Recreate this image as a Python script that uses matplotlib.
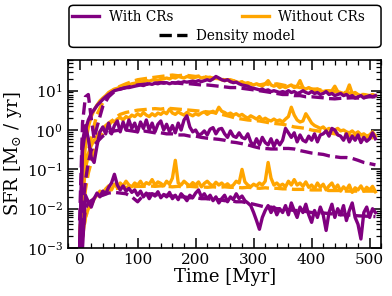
import numpy as np
import matplotlib
matplotlib.use("Agg")
import matplotlib.pyplot as plt
from matplotlib.lines import Line2D
from matplotlib.patches import FancyBboxPatch
from matplotlib.ticker import MultipleLocator, LogLocator, NullFormatter

plt.rcParams['font.family'] = 'serif'
plt.rcParams['font.serif'] = ['DejaVu Serif']
plt.rcParams['mathtext.fontset'] = 'dejavuserif'

# time grids (Myr)
t_sim = np.arange(0, 515, 5)
t_mod = np.concatenate([[0, 5, 10, 15, 20, 25, 30], np.arange(40, 520, 10)])

# --- simulations: high mass ---
sfr_hi_cr = [0.001, 0.3, 1.0, 1.8, 2.6, 3.3, 4.2, 5, 6, 7,
             8, 9, 10, 10.5, 11, 11.5, 12, 12, 12.5, 13,
             13.5, 14, 13.5, 14.5, 15, 14.5, 15.5, 15, 16, 15.5,
             16, 15, 16, 15.5, 16.5, 16, 17, 16.5, 17, 17.5,
             17, 18, 17, 18, 19, 18, 20, 23, 21, 19,
             18, 19, 17, 16, 16.5, 15, 14, 13.5, 13, 12,
             11.5, 11, 10.5, 11, 10, 10.5, 9.5, 10, 9.5, 9,
             9.5, 9, 10, 9, 9.5, 8.5, 9, 10, 9, 8.5,
             9.5, 8.5, 9, 8, 8.5, 9.5, 8, 8.5, 7.5, 8,
             8.5, 7.5, 8, 7, 7.5, 6.5, 7, 7.5, 6.5, 7,
             7.5, 7, 7.5]
sfr_hi_nocr = [0.001, 0.05, 0.4, 1.2, 2.2, 3.2, 4.3, 5.5, 6.5, 7.5,
               9, 10, 11, 11.5, 12.5, 13, 14, 14, 15, 15.5,
               16, 16.5, 17, 18, 17.5, 18.5, 19, 18, 19.5, 20,
               21, 20, 22, 21, 23, 22, 21, 23, 22, 21,
               22, 23, 21, 22, 21, 22, 20, 21, 20, 19,
               18, 19, 17, 18, 17, 16, 17, 15, 16, 15,
               14, 15, 14, 13, 15, 18, 14, 13, 14, 12,
               13, 12, 13, 14, 12, 13, 18, 12, 11, 12,
               11, 10, 11, 10, 9.5, 10, 9, 10, 13, 9.5,
               9, 8.5, 9, 14, 8.5, 9, 8, 7.5, 8, 7.5,
               7.5, 8, 7.5]

# --- simulations: intermediate mass ---
sfr_mid_cr = [0.001, 0.5, 1.3, 0.6, 0.2, 0.15, 0.4, 0.9, 1.2, 0.8,
              1.5, 0.8, 1.3, 1.7, 0.9, 1.6, 1.0, 1.8, 1.1, 1.5,
              0.9, 1.6, 1.1, 1.8, 1.0, 1.5, 0.9, 1.4, 1.7, 1.0,
              1.4, 0.9, 1.3, 0.85, 1.5, 1.0, 1.8, 2.3, 1.2, 0.9,
              1.0, 0.75, 0.8, 0.95, 0.75, 1.05, 1.15, 0.8, 1.05, 1.1,
              0.8, 0.65, 0.95, 0.7, 0.65, 0.85, 0.65, 0.6, 0.8, 0.5,
              0.4, 0.6, 0.42, 0.65, 0.48, 0.42, 0.6, 0.38, 0.55, 0.42,
              0.55, 1.1, 0.85, 0.65, 0.85, 0.5, 0.75, 0.55, 0.5, 0.7,
              0.55, 0.8, 0.5, 0.75, 0.8, 0.95, 0.7, 1.1, 1.0, 0.75,
              0.7, 0.55, 0.8, 0.5, 0.7, 0.55, 0.75, 0.48, 0.65, 0.52,
              0.6, 0.85, 0.6]
sfr_mid_nocr = [0.001, 0.02, 0.1, 0.25, 0.4, 0.55, 0.7, 0.9, 1.1, 1.3,
                1.5, 1.7, 1.6, 1.9, 2.1, 1.8, 2.2, 2.0, 2.4, 2.2,
                2.6, 2.3, 2.8, 2.4, 2.2, 2.6, 2.3, 2.7, 2.5, 2.9,
                2.6, 3.4, 2.7, 2.5, 2.9, 2.6, 2.4, 2.8, 2.5, 2.3,
                2.6, 2.4, 2.7, 2.9, 2.5, 2.8, 3.0, 2.7, 3.8, 3.0,
                2.8, 2.5, 2.7, 2.4, 2.6, 2.3, 2.5, 2.2, 2.0, 2.3,
                2.1, 1.9, 2.2, 1.8, 2.0, 1.8, 1.7, 1.9, 1.7, 1.8,
                1.6, 1.9, 2.2, 3.8, 2.4, 1.8, 1.6, 1.7, 2.6, 2.0,
                1.5, 1.3, 1.2, 1.1, 1.2, 1.0, 1.1, 0.95, 1.0, 1.1,
                0.95, 1.0, 0.9, 0.85, 0.95, 0.8, 0.9, 0.75, 0.8, 0.7,
                0.75, 0.9, 0.7]

# --- simulations: low mass ---
sfr_lo_cr = [0.0003, 0.001, 0.022, 0.015, 0.011, 0.018, 0.025, 0.02, 0.028, 0.024,
             0.035, 0.045, 0.075, 0.04, 0.03, 0.038, 0.028, 0.033, 0.026, 0.03,
             0.022, 0.028, 0.02, 0.025, 0.018, 0.024, 0.021, 0.027, 0.019, 0.023,
             0.02, 0.026, 0.018, 0.022, 0.017, 0.024, 0.02, 0.016, 0.022, 0.019,
             0.025, 0.03, 0.02, 0.024, 0.018, 0.022, 0.016, 0.02, 0.014, 0.018,
             0.022, 0.015, 0.02, 0.017, 0.024, 0.018, 0.021, 0.016, 0.014, 0.012,
             0.008, 0.005, 0.003, 0.006, 0.009, 0.012, 0.008, 0.011, 0.007, 0.01,
             0.008, 0.012, 0.007, 0.014, 0.009, 0.006, 0.011, 0.008, 0.013, 0.007,
             0.0045, 0.009, 0.006, 0.011, 0.007, 0.0028, 0.008, 0.013, 0.006, 0.01,
             0.007, 0.012, 0.005, 0.009, 0.014, 0.006, 0.004, 0.0017, 0.008, 0.011,
             0.006, 0.01, 0.008]
sfr_lo_nocr = [0.0005, 0.002, 0.006, 0.01, 0.012, 0.018, 0.022, 0.028, 0.025, 0.032,
               0.038, 0.03, 0.042, 0.035, 0.045, 0.038, 0.05, 0.04, 0.036, 0.045,
               0.04, 0.05, 0.038, 0.046, 0.042, 0.055, 0.04, 0.048, 0.044, 0.038,
               0.05, 0.042, 0.06, 0.17, 0.045, 0.04, 0.05, 0.043, 0.038, 0.046,
               0.04, 0.048, 0.036, 0.044, 0.05, 0.042, 0.038, 0.047, 0.04, 0.045,
               0.038, 0.043, 0.036, 0.04, 0.05, 0.045, 0.1, 0.048, 0.04, 0.036,
               0.042, 0.038, 0.045, 0.04, 0.05, 0.15, 0.06, 0.04, 0.045, 0.038,
               0.042, 0.036, 0.05, 0.04, 0.055, 0.04, 0.045, 0.037, 0.048, 0.035,
               0.04, 0.032, 0.045, 0.035, 0.042, 0.03, 0.038, 0.045, 0.032, 0.04,
               0.028, 0.036, 0.03, 0.04, 0.026, 0.034, 0.03, 0.038, 0.028, 0.035,
               0.03, 0.037, 0.027]

# --- density model predictions ---
mod_hi_cr = [0.005, 1.5, 7, 8, 2, 0.6, 1.2, 4, 7, 9.5,
             11, 12, 13, 14, 14.5, 15, 15.5, 16, 16, 16,
             15.5, 15, 15, 14.5, 14, 14, 13.5, 13, 12.5, 12,
             12, 11.5, 11, 10.5, 10, 9.5, 9, 8.5, 8, 8,
             7.5, 7.5, 7, 7, 6.8, 6.6, 6.3, 6.2, 6.4, 6.5,
             6.6, 6.5, 6.8, 7, 7]
mod_hi_nocr = [0.002, 0.03, 0.1, 0.3, 0.6, 1.3, 2.5, 5, 8, 11,
               13, 15, 17, 19, 20, 21, 22, 23, 24, 25,
               24, 25, 24, 23, 24, 22, 21, 20, 19, 19,
               17, 16, 15, 15, 14, 15, 14, 15, 14, 13,
               13, 12, 12, 11, 11, 10, 10, 9.5, 9, 9,
               8.5, 8, 8, 7.5, 7.5]
mod_mid_cr = [0.001, 0.01, 0.05, 0.15, 0.3, 0.4, 0.5, 0.7, 0.85, 0.95,
              1.0, 1.0, 0.95, 0.9, 0.95, 0.9, 0.85, 0.85, 0.8, 0.8,
              0.75, 0.75, 0.7, 0.7, 0.65, 0.62, 0.6, 0.58, 0.55, 0.5,
              0.48, 0.45, 0.42, 0.38, 0.35, 0.34, 0.33, 0.33, 0.34, 0.34,
              0.33, 0.3, 0.28, 0.26, 0.25, 0.24, 0.22, 0.21, 0.2, 0.2,
              0.19, 0.17, 0.15, 0.14, 0.13]
mod_mid_nocr = [0.001, 0.005, 0.03, 0.08, 0.15, 0.3, 0.5, 0.8, 1.3, 2.0,
                2.5, 2.8, 3.0, 3.2, 3.3, 3.4, 3.5, 3.4, 3.6, 3.5,
                3.4, 3.3, 3.2, 3.1, 3.0, 2.9, 2.8, 2.6, 2.4, 2.2,
                2.0, 1.9, 1.8, 1.75, 1.7, 1.6, 1.5, 1.45, 1.4, 1.3,
                1.2, 1.15, 1.1, 1.0, 0.95, 0.9, 0.85, 0.8, 0.78, 0.75,
                0.72, 0.7, 0.68, 0.65, 0.62]
mod_lo_cr = [0.0005, 0.002, 0.01, 0.014, 0.016, 0.018, 0.02, 0.022, 0.025, 0.026,
             0.025, 0.024, 0.02, 0.015, 0.022, 0.024, 0.023, 0.022, 0.022, 0.021,
             0.02, 0.02, 0.019, 0.019, 0.018, 0.018, 0.017, 0.017, 0.016, 0.016,
             0.015, 0.015, 0.014, 0.013, 0.012, 0.011, 0.011, 0.01, 0.01, 0.0095,
             0.009, 0.009, 0.0085, 0.008, 0.008, 0.0078, 0.0075, 0.0073, 0.007, 0.007,
             0.0068, 0.0066, 0.0065, 0.0064, 0.0063]
mod_lo_nocr = [0.0005, 0.002, 0.006, 0.01, 0.014, 0.018, 0.022, 0.027, 0.03, 0.032,
               0.034, 0.035, 0.036, 0.037, 0.037, 0.038, 0.037, 0.038, 0.037, 0.036,
               0.037, 0.036, 0.037, 0.036, 0.036, 0.035, 0.036, 0.035, 0.036, 0.035,
               0.035, 0.034, 0.035, 0.034, 0.033, 0.034, 0.033, 0.033, 0.032, 0.032,
               0.031, 0.031, 0.031, 0.030, 0.030, 0.030, 0.029, 0.029, 0.029, 0.028,
               0.028, 0.028, 0.028, 0.028, 0.028]

c_cr = 'purple'
c_nocr = 'orange'
lw = 2.4

fig = plt.figure(figsize=(3.92, 2.96), dpi=100)
ax = fig.add_axes([0.1735, 0.162, 0.799, 0.635])

for s in [sfr_hi_nocr, sfr_mid_nocr, sfr_lo_nocr]:
    ax.plot(t_sim, s, color=c_nocr, lw=lw)
for m in [mod_hi_nocr, mod_mid_nocr, mod_lo_nocr]:
    ax.plot(t_mod, m, color=c_nocr, lw=lw, ls='--')
for s in [sfr_hi_cr, sfr_mid_cr, sfr_lo_cr]:
    ax.plot(t_sim, s, color=c_cr, lw=lw)
for m in [mod_hi_cr, mod_mid_cr, mod_lo_cr]:
    ax.plot(t_mod, m, color=c_cr, lw=lw, ls='--')

ax.set_yscale('log')
ax.set_xlim(-20, 520)
ax.set_ylim(1e-3, 60)
ax.xaxis.set_major_locator(MultipleLocator(100))
ax.xaxis.set_minor_locator(MultipleLocator(20))
ax.yaxis.set_minor_locator(LogLocator(base=10, subs=np.arange(2, 10), numticks=20))
ax.yaxis.set_minor_formatter(NullFormatter())
ax.tick_params(which='both', direction='in', top=True, right=True, labelsize=11)
ax.tick_params(which='major', length=7, width=1.1)
ax.tick_params(which='minor', length=3.5, width=0.9)
for sp in ax.spines.values():
    sp.set_linewidth(1.2)

ax.set_xlabel('Time [Myr]', fontsize=13, labelpad=1)
ax.set_ylabel(r'SFR [M$_{\odot}$ / yr]', fontsize=13, labelpad=2)

# legend: shared frame, two rows
box = FancyBboxPatch((0.176, 0.84), 0.796, 0.142,
                     boxstyle="round,pad=0,rounding_size=0.012",
                     transform=fig.transFigure, fc='white', ec='black', lw=1.1)
fig.patches.append(box)
h_cr = Line2D([], [], color=c_cr, lw=lw)
h_nocr = Line2D([], [], color=c_nocr, lw=lw)
h_mod = Line2D([], [], color='black', lw=lw, ls='--')
fig.legend([h_cr, h_nocr], ['With CRs', 'Without CRs'], loc='center',
           bbox_to_anchor=(0.558, 0.944), ncol=2, frameon=False, fontsize=9.8,
           handlelength=2.0, handletextpad=0.7, columnspacing=5.0,
           borderpad=0, borderaxespad=0)
fig.legend([h_mod], ['Density model'], loc='center',
           bbox_to_anchor=(0.58, 0.879), frameon=False, fontsize=9.8,
           handlelength=2.0, handletextpad=0.7, borderpad=0, borderaxespad=0)

fig.savefig('out.png', dpi=100)
